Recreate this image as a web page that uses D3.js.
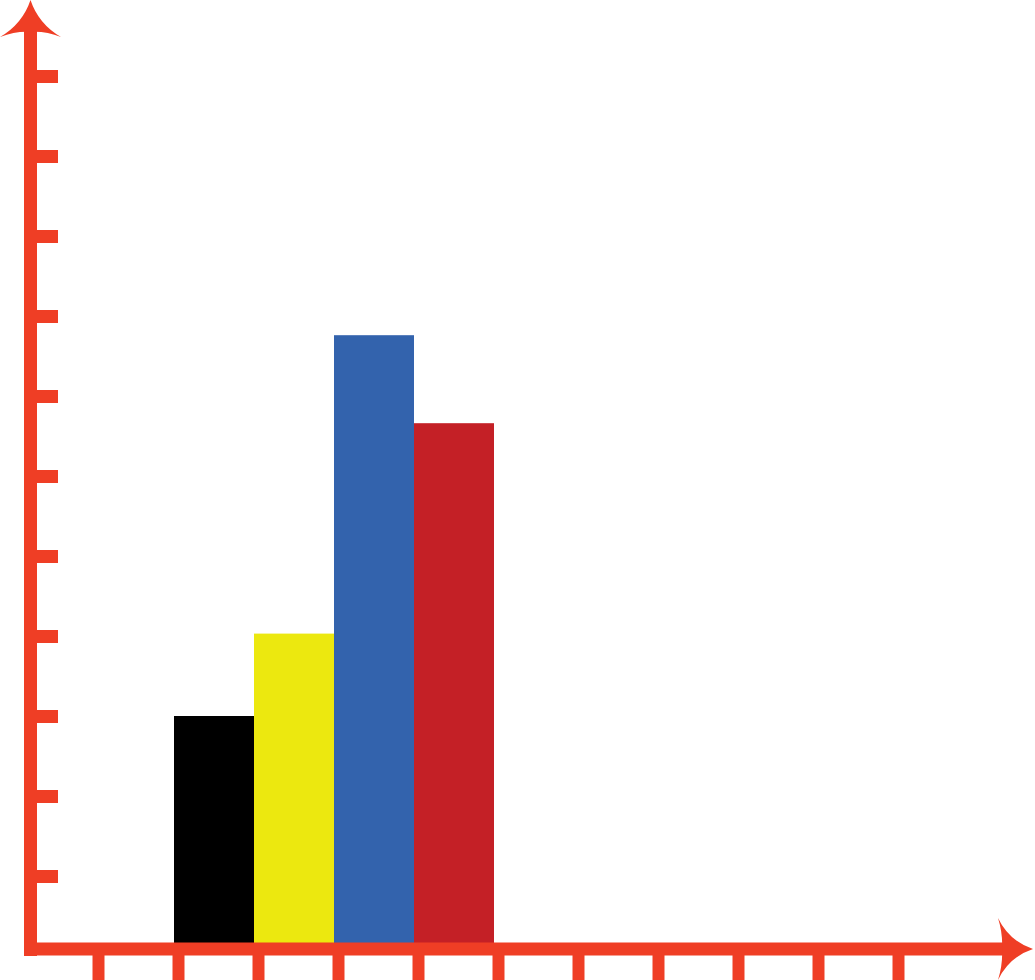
<!DOCTYPE html>
<html>
<head>
<meta charset="utf-8">
<script src="https://cdn.jsdelivr.net/npm/d3@7"></script>
<style>
  html, body { margin: 0; padding: 0; background: #ffffff; }
  svg { display: block; }
</style>
</head>
<body>
<svg id="chart" width="1035" height="980"></svg>
<script>
// ---- data ----
const categories = ["A", "B", "C", "D"];
const values = [3.0, 4.03, 7.76, 6.66];
const barColors = ["#000000", "#ECE80F", "#3363AD", "#C42026"];
const yTickValues = [1, 2, 3, 4, 5, 6, 7, 8, 9, 10, 11];
const xTickValues = [1, 2, 3, 4, 5, 6, 7, 8, 9, 10, 11];

const axisColor = "#EF3E25";
const svg = d3.select("#chart");

// scales
const y = d3.scaleLinear().domain([0, 11]).range([956, 76]);
const xTicksScale = d3.scaleLinear().domain([0, 12]).range([18, 978]);
const xBand = d3.scaleBand().domain(categories).range([174, 494]).padding(0);

// bars
svg.append("g").selectAll("rect")
  .data(values)
  .join("rect")
  .attr("x", (d, i) => xBand(categories[i]))
  .attr("width", xBand.bandwidth())
  .attr("y", d => y(d))
  .attr("height", d => y(0) - y(d) - 7)
  .attr("fill", (d, i) => barColors[i]);

// y ticks (right side of the vertical axis)
const yAxis = d3.axisRight(y).tickValues(yTickValues).tickSize(22).tickFormat("");
const gy = svg.append("g").attr("transform", "translate(36,0)").call(yAxis);
gy.select(".domain").remove();
gy.selectAll(".tick line").attr("stroke", axisColor).attr("stroke-width", 13);

// x ticks (below the horizontal axis)
const xAxis = d3.axisBottom(xTicksScale).tickValues(xTickValues).tickSize(40).tickFormat("");
const gx = svg.append("g").attr("transform", "translate(0,954)").call(xAxis);
gx.select(".domain").remove();
gx.selectAll(".tick line").attr("stroke", axisColor).attr("stroke-width", 12);

// axis lines
svg.append("line")
  .attr("x1", 30.5).attr("x2", 30.5).attr("y1", 956).attr("y2", 28)
  .attr("stroke", axisColor).attr("stroke-width", 13);
svg.append("line")
  .attr("x1", 24).attr("x2", 1006).attr("y1", 949).attr("y2", 949)
  .attr("stroke", axisColor).attr("stroke-width", 13);

// arrow heads
const cx = 30.5;
svg.append("path")
  .attr("d", `M${cx},0 Q${cx - 8},24 0,37 Q16,31 ${cx},32 Q${cx + 15},31 61,37 Q${cx + 8},24 ${cx},0 Z`)
  .attr("fill", axisColor);

const cy = 949;
svg.append("path")
  .attr("d", `M1033,${cy} Q1009,${cy - 8} 998,918 Q1003,${cy - 15} 1002,${cy} Q1003,${cy + 15} 998,980 Q1009,${cy + 8} 1033,${cy} Z`)
  .attr("fill", axisColor);
</script>
</body>
</html>
